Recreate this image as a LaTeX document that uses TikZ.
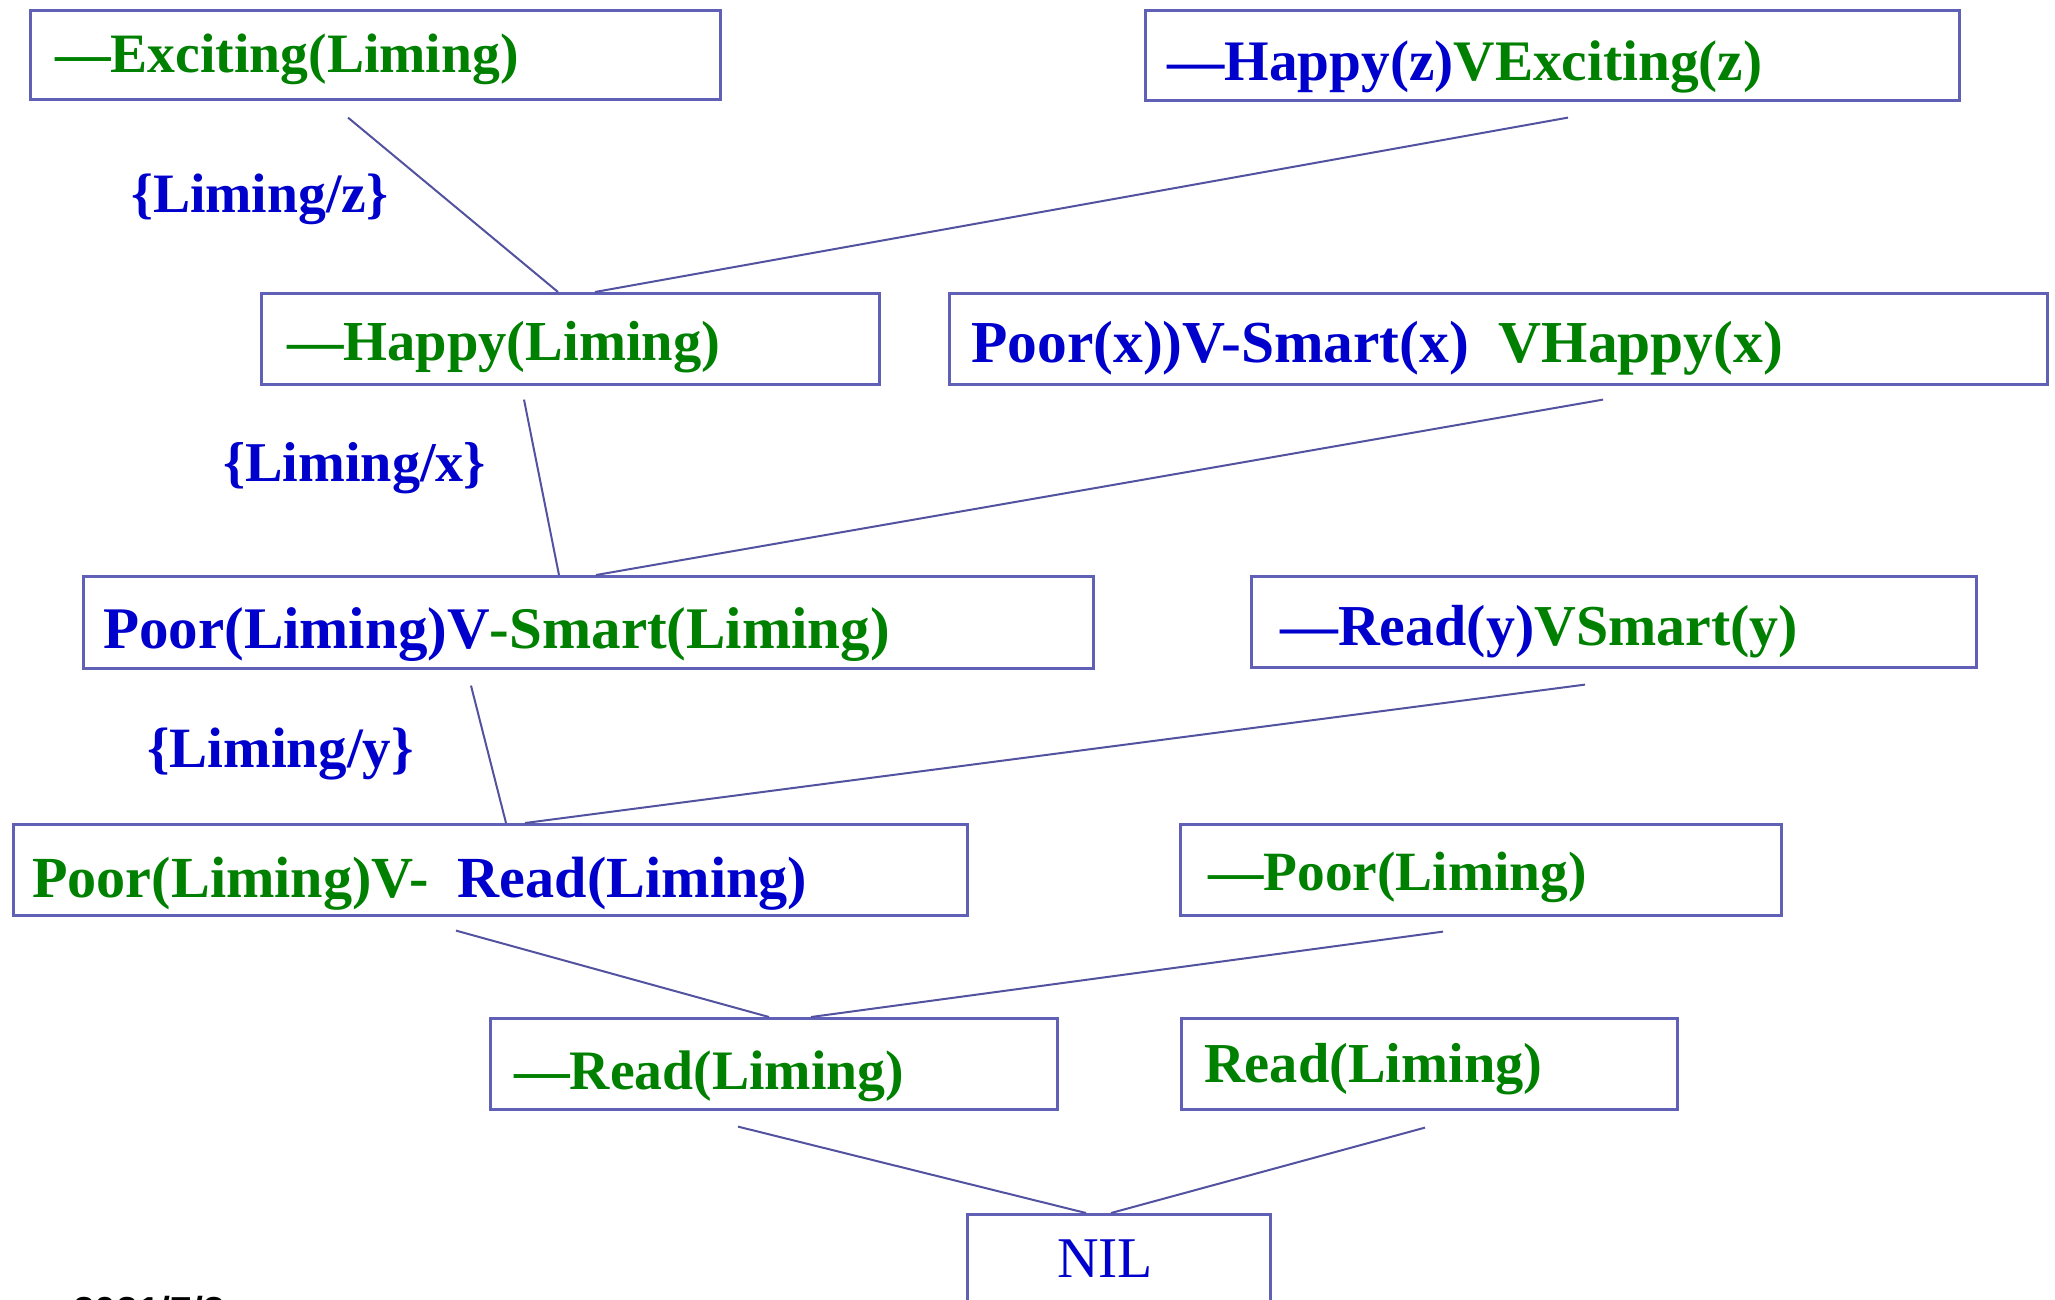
\documentclass[tikz,border=0pt]{standalone}
\usepackage{fontspec}
\setmainfont{Liberation Serif}
\newfontfamily\datefont{Liberation Sans}
\usetikzlibrary{calc}
\definecolor{fgreen}{RGB}{0,128,0}
\definecolor{fblue}{RGB}{0,0,204}
\definecolor{boxline}{RGB}{96,96,182}
\definecolor{linkline}{RGB}{82,82,160}
\newcommand{\G}[1]{\textcolor{fgreen}{#1}}
\newcommand{\B}[1]{\textcolor{fblue}{#1}}
\begin{document}
\begin{tikzpicture}[x=1pt,y=-1pt,
  clause/.style={draw=boxline,line width=2.6pt,rectangle,anchor=north west,inner sep=0pt},
  ctext/.style={anchor=base west,inner sep=0pt,font=\fontsize{#1}{60}\selectfont\bfseries},
  ctext/.default=57,
  subst/.style={ctext=#1,text=fblue},
  subst/.default=57,
  link/.style={draw=linkline,line width=2pt}]
\useasboundingbox (0,0) rectangle (2055,1299);

% clause boxes
\node[clause,minimum width=690pt,minimum height=89pt]  (b1)  at (29,9) {};
\node[clause,minimum width=814pt,minimum height=90pt]  (b2)  at (1144,9) {};
\node[clause,minimum width=618pt,minimum height=91pt]  (b3)  at (260,292) {};
\node[clause,minimum width=1098pt,minimum height=91pt] (b4)  at (948,292) {};
\node[clause,minimum width=1010pt,minimum height=92pt] (b5)  at (82,575) {};
\node[clause,minimum width=725pt,minimum height=91pt]  (b6)  at (1250,575) {};
\node[clause,minimum width=954pt,minimum height=91pt]  (b7)  at (12,823) {};
\node[clause,minimum width=601pt,minimum height=91pt]  (b8)  at (1179,823) {};
\node[clause,minimum width=567pt,minimum height=91pt]  (b9)  at (489,1017) {};
\node[clause,minimum width=496pt,minimum height=91pt]  (b10) at (1180,1017) {};
\node[clause,minimum width=303pt,minimum height=150pt] (b11) at (966,1213) {};

% clause texts
\node[ctext=55.6] (t1)  at (55,72)    {\G{—Exciting(Liming)}};
\node[ctext=57.3] (t2)  at (1167,80)  {\B{—Happy(z)}\G{VExciting(z)}};
\node[ctext=56.5] (t3)  at (287,360)  {\G{—Happy(Liming)}};
\node[ctext=59.5] (t4)  at (971,362)  {\B{Poor(x))V-Smart(x)}\ \ \G{VHappy(x)}};
\node[ctext=59]   (t5)  at (103,648)  {\B{Poor(Liming)V}\G{-Smart(Liming)}};
\node[ctext=57.9] (t6)  at (1280,645) {\B{—Read(y)}\G{VSmart(y)}};
\node[ctext=58.2] (t7)  at (32,897)   {\G{Poor(Liming)V-}\ \ \B{Read(Liming)}};
\node[ctext=55.4] (t8)  at (1208,890) {\G{—Poor(Liming)}};
\node[ctext=55.7] (t9)  at (514,1089) {\G{—Read(Liming)}};
\node[ctext=56.4] (t10) at (1204,1082){\G{Read(Liming)}};
\node[anchor=base west,inner sep=0pt,text=fblue,font=\fontsize{57.6}{60}\selectfont] (t11) at (1057,1277) {NIL};

% substitutions
\node[subst=55.6] (sz) at (131,212) {\{Liming/z\}};
\node[subst=56.2] (sx) at (223,481) {\{Liming/x\}};
\node[subst=57]   (sy) at (147,767) {\{Liming/y\}};

% footer date
\node[anchor=base west,inner sep=0pt,font=\datefont\bfseries\fontsize{39}{42}\selectfont] (date) at (73,1324) {2021/7/3};

% resolution links
\draw[link] ($(b1.south west)+(319,17)$) -- ($(b3.north west)+(298,0)$);
\draw[link] ($(b2.south west)+(424,16)$) -- ($(b3.north west)+(335,0)$);
\draw[link] ($(b3.south west)+(264,14)$) -- ($(b5.north west)+(477,0)$);
\draw[link] ($(b4.south west)+(655,14)$) -- ($(b5.north west)+(514,0)$);
\draw[link] ($(b5.south west)+(389,16)$) -- ($(b7.north west)+(494,0)$);
\draw[link] ($(b6.south west)+(335,16)$) -- ($(b7.north west)+(513,0)$);
\draw[link] ($(b7.south west)+(444,14)$) -- ($(b9.north west)+(280,0)$);
\draw[link] ($(b8.south west)+(264,15)$) -- ($(b9.north west)+(322,0)$);
\draw[link] ($(b9.south west)+(249,16)$) -- ($(b11.north west)+(120,0)$);
\draw[link] ($(b10.south west)+(245,17)$) -- ($(b11.north west)+(145,0)$);
\end{tikzpicture}
\end{document}
